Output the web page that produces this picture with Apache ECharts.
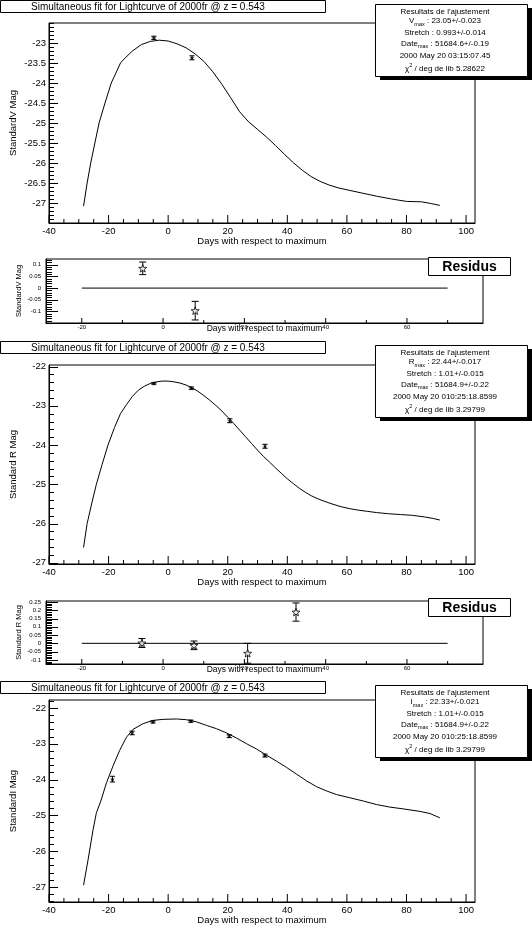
<!DOCTYPE html>
<html><head><meta charset="utf-8">
<script src="https://cdn.jsdelivr.net/npm/echarts@6/dist/echarts.min.js"></script>
<style>html,body{margin:0;padding:0;background:#fff}#c{width:532px;height:926px}</style>
</head><body><div id="c"></div>
<script>
const FONT = '"Liberation Sans", Arial, Helvetica, sans-serif';

// ---------- V band ----------
const vFitDays = [-28.4,-27.2,-26.0,-24.6,-23.2,-21.2,-19.1,-16.0,-14.8,-12,-9,-6,-3,0,3,6,9,12,15,18,21,24,27,30,33,36,39,42,45,48,51,54,57,60,65,70,75,80,85,88,91.2];
const vFitMag  = [-27.08,-26.5,-26.0,-25.5,-25.0,-24.5,-24.0,-23.5,-23.40,-23.2,-23.04,-22.96,-22.93,-22.95,-23.02,-23.12,-23.27,-23.46,-23.72,-24.03,-24.37,-24.72,-24.97,-25.16,-25.35,-25.56,-25.78,-25.99,-26.18,-26.34,-26.46,-26.55,-26.62,-26.67,-26.75,-26.83,-26.90,-26.96,-26.97,-27.01,-27.06];
const vObsDays = [-4.8, 8.0];
const vObsMag  = [-22.87, -23.37];
const vObsErr  = [0.04, 0.05];
const vResDays = [-5.0, 7.9];
const vRes     = [0.085, -0.097];
const vResErr  = [0.027, 0.04];

// ---------- R band ----------
const rFitDays = [-28.4,-27.2,-25.7,-24.1,-22.2,-20.2,-18.0,-16,-14,-12,-10,-8,-6,-4,-2,0,2,4,6,8,10,12,14,16,18,20,22,24,26,28,30,32,34,36,38,40,42,44,46,48,50,52,55,58,61,64,67,70,74,78,82,86,89,91.2];
const rFitMag  = [-26.61,-26.0,-25.5,-25.0,-24.5,-24.0,-23.55,-23.2,-22.97,-22.76,-22.6,-22.5,-22.43,-22.39,-22.37,-22.37,-22.39,-22.42,-22.47,-22.54,-22.63,-22.74,-22.86,-22.99,-23.13,-23.29,-23.45,-23.62,-23.79,-23.96,-24.13,-24.29,-24.43,-24.58,-24.72,-24.86,-24.98,-25.1,-25.2,-25.29,-25.36,-25.42,-25.5,-25.57,-25.62,-25.66,-25.69,-25.72,-25.75,-25.77,-25.79,-25.83,-25.87,-25.91];
const rObsDays = [-4.8, 7.8, 20.7, 32.5];
const rObsMag  = [-22.43, -22.55, -23.38, -24.03];
const rObsErr  = [0.02, 0.03, 0.05, 0.05];
const rResDays = [-5.2, 7.6, 20.8, 32.7];
const rRes     = [0.002, -0.012, -0.06, 0.189];
const rResErr  = [0.027, 0.026, 0.06, 0.055];

// ---------- I band ----------
const iFitDays = [-28.4,-26.9,-25.2,-24.1,-22.6,-20.7,-18.5,-16.3,-14.0,-11.8,-8.4,-5.1,-1.7,2.8,6.1,9.5,12.9,16.2,19.6,22.9,26.3,29.7,33.0,36.4,39.7,43.1,46.5,49.8,53.2,56.5,61.0,65.5,70.0,74.4,78.9,84.5,87.9,91.2];
const iFitMag  = [-26.95,-26.25,-25.40,-24.93,-24.60,-24.09,-23.62,-23.19,-22.82,-22.60,-22.44,-22.35,-22.32,-22.31,-22.33,-22.39,-22.49,-22.58,-22.70,-22.84,-23.00,-23.15,-23.32,-23.49,-23.66,-23.85,-24.04,-24.20,-24.32,-24.42,-24.51,-24.60,-24.70,-24.77,-24.82,-24.89,-24.95,-25.07];
const iObsDays = [-18.7, -12.1, -5.1, 7.6, 20.5, 32.5];
const iObsMag  = [-23.99, -22.70, -22.39, -22.37, -22.79, -23.33];
const iObsErr  = [0.08, 0.05, 0.03, 0.03, 0.04, 0.04];

// residual reference line
const resLineDays = [-20, 70];
const resLineVal  = [0, 0];

// ---------- ticks ----------
const mainXMajor = [-40,-20,0,20,40,60,80,100];
const resXMajor  = [-20,0,20,40,60];
const vYMajor    = [-27,-26.5,-26,-25.5,-25,-24.5,-24,-23.5,-23];
const rYMajor    = [-27,-26,-25,-24,-23,-22];
const iYMajor    = [-27,-26,-25,-24,-23,-22];
const vResYMajor = [-0.1,-0.05,0,0.05,0.1];
const rResYMajor = [-0.1,-0.05,0,0.05,0.1,0.15,0.2,0.25];

// ---------- texts ----------
const titleText = 'Simultaneous fit for Lightcurve of 2000fr @ z = 0.543';
const infoHeader = "Resultats de l'ajustement";
const vInfo = ['V', ' : 23.05+/-0.023', 'Stretch : 0.993+/-0.014', ' : 51684.6+/-0.19', '2000 May 20 03:15:07.45', ' / deg de lib 5.28622'];
const rInfo = ['R', ' : 22.44+/-0.017', 'Stretch : 1.01+/-0.015', ' : 51684.9+/-0.22', '2000 May 20 010:25:18.8599', ' / deg de lib 3.29799'];
const iInfo = ['I', ' : 22.33+/-0.021', 'Stretch : 1.01+/-0.015', ' : 51684.9+/-0.22', '2000 May 20 010:25:18.8599', ' / deg de lib 3.29799'];

function steps(a, b, s) { const out = []; const n = Math.round((b - a) / s); for (let k = 0; k <= n; k++) out.push(+(a + k * s).toFixed(4)); return out; }
function zip(a, b) { return a.map((v, k) => [v, b[k]]); }
function zip3(a, b, c) { return a.map((v, k) => [v, b[k], c[k]]); }
const fmt = v => String(parseFloat((+v).toFixed(3)));

const grids = [
  {left: 49, top: 23,  width: 426, height: 200},   // V main
  {left: 46, top: 259, width: 437, height: 64},    // V res
  {left: 49, top: 365, width: 426, height: 199},   // R main
  {left: 46, top: 601, width: 437, height: 63},    // R res
  {left: 49, top: 700, width: 426, height: 203}    // I main
].map(g => Object.assign({show: true, borderColor: '#000', borderWidth: 1, backgroundColor: 'transparent'}, g));

const xAxis = [], yAxis = [];
function addX(gi, min, max, major, o) {
  xAxis.push({type: 'value', gridIndex: gi, min, max, position: 'bottom',
    axisLine: {show: true, onZero: false, lineStyle: {color: '#000', width: 1}},
    axisTick: {show: false},
    axisLabel: {show: true, customValues: major, fontSize: o.lab, fontFamily: FONT, color: '#000', margin: o.margin, formatter: fmt},
    splitLine: {show: false},
    name: 'Days with respect to maximum', nameLocation: 'middle', nameGap: o.nameGap, nameMoveOverlap: false,
    nameTextStyle: {fontSize: o.nameSize, fontFamily: FONT, color: '#000'}});
  return xAxis.length - 1;
}
function addY(gi, min, max, major, o) {
  yAxis.push({type: 'value', gridIndex: gi, min, max, position: 'left',
    axisLine: {show: true, onZero: false, lineStyle: {color: '#000', width: 1}},
    axisTick: {show: false},
    axisLabel: {show: true, customValues: major, fontSize: o.lab, fontFamily: FONT, color: '#000', margin: o.margin, formatter: fmt},
    splitLine: {show: false},
    name: o.name, nameLocation: 'middle', nameGap: o.nameGap, nameRotate: 90, nameMoveOverlap: false,
    nameTextStyle: {fontSize: o.nameSize, fontFamily: FONT, color: '#000'}});
  return yAxis.length - 1;
}

const mainXo = {majLen: 8, minLen: 4, lab: 9.5, margin: 3, nameGap: 13, nameSize: 9.5};
const resXo  = {majLen: 5, minLen: 3, lab: 6, margin: 1, nameGap: 1, nameSize: 8.5};
const mainYo = {majLen: 9, minLen: 5, lab: 9.5, margin: 3, nameGap: 31, nameSize: 9.5};
const resYo  = {majLen: 12, minLen: 6, lab: 6, margin: 5, nameGap: 23, nameSize: 7.5};

const panels = [
  {g: 0, type: 'main', xr: [-40, 103], yr: [-27.5, -22.5], yMaj: vYMajor, yMin: steps(-27.5, -22.5, 0.1), name: 'StandardV Mag',
   fit: zip(vFitDays, vFitMag), obs: zip3(vObsDays, vObsMag, vObsErr)},
  {g: 1, type: 'res', xr: [-28.8, 78.7], yr: [-0.15, 0.125], yMaj: vResYMajor, yMin: steps(-0.15, 0.12, 0.01), name: 'StandardV Mag',
   fit: zip(resLineDays, resLineVal), obs: zip3(vResDays, vRes, vResErr)},
  {g: 2, type: 'main', xr: [-40, 103], yr: [-27.03, -21.96], yMaj: rYMajor, yMin: steps(-27.0, -22.0, 0.2), name: 'Standard R Mag',
   fit: zip(rFitDays, rFitMag), obs: zip3(rObsDays, rObsMag, rObsErr)},
  {g: 3, type: 'res', xr: [-28.8, 78.7], yr: [-0.125, 0.256], yMaj: rResYMajor, yMin: steps(-0.12, 0.25, 0.01), name: 'Standard R Mag',
   fit: zip(resLineDays, resLineVal), obs: zip3(rResDays, rRes, rResErr)},
  {g: 4, type: 'main', xr: [-40, 103], yr: [-27.42, -21.78], yMaj: iYMajor, yMin: steps(-27.4, -21.8, 0.2), name: 'StandardI Mag',
   fit: zip(iFitDays, iFitMag), obs: zip3(iObsDays, iObsMag, iObsErr)}
];

const STAR = 'path://M0,-10L2.35,-3.24L9.51,-3.09L3.8,1.24L5.88,8.09L0,4L-5.88,8.09L-3.8,1.24L-9.51,-3.09L-2.35,-3.24Z';
const series = [];
panels.forEach(p => {
  const isMain = p.type === 'main';
  const xo = isMain ? mainXo : resXo, yo = isMain ? mainYo : resYo;
  const xMaj = isMain ? mainXMajor : resXMajor;
  const xMin = isMain ? steps(-40, 100, 5) : steps(-20, 70, 10);
  const xi = addX(p.g, p.xr[0], p.xr[1], xMaj, xo);
  const yi = addY(p.g, p.yr[0], p.yr[1], p.yMaj, Object.assign({name: p.name}, yo));
  // axis ticks (inside the frame), positioned through the axis scales
  const has = (arr, v) => arr.some(a => Math.abs(a - v) < 1e-6);
  const xTicks = xMin.filter(v => !has(xMaj, v)).map(v => [v, xo.minLen]).concat(xMaj.map(v => [v, xo.majLen]));
  const yTicks = p.yMin.filter(v => !has(p.yMaj, v)).map(v => [v, yo.minLen]).concat(p.yMaj.map(v => [v, yo.majLen]));
  const yBase = p.yr[0], xBase = p.xr[0];
  series.push({type: 'custom', xAxisIndex: xi, yAxisIndex: yi, data: xTicks, silent: true, z: 1, clip: false,
    encode: {x: 0},
    renderItem: (params, api) => {
      const c = api.coord([api.value(0), yBase]);
      return {type: 'line', shape: {x1: c[0], y1: c[1], x2: c[0], y2: c[1] - api.value(1)}, style: {stroke: '#000', lineWidth: 1}};
    }});
  series.push({type: 'custom', xAxisIndex: xi, yAxisIndex: yi, data: yTicks, silent: true, z: 1, clip: false,
    encode: {y: 0},
    renderItem: (params, api) => {
      const c = api.coord([xBase, api.value(0)]);
      const yy = Math.round(c[1]) + 0.5;
      return {type: 'line', shape: {x1: c[0], y1: yy, x2: c[0] + api.value(1), y2: yy}, style: {stroke: '#000', lineWidth: 1}};
    }});
  series.push({type: 'line', xAxisIndex: xi, yAxisIndex: yi, data: p.fit, showSymbol: false, symbol: 'none',
    lineStyle: {color: '#000', width: 1}, silent: true, z: 2});
  const cap = isMain ? 2.6 : 3.5;
  series.push({type: 'custom', xAxisIndex: xi, yAxisIndex: yi, data: p.obs, encode: {x: 0, y: 1}, z: 3,
    renderItem: (params, api) => {
      const x = api.value(0), y = api.value(1), e = api.value(2);
      const t = api.coord([x, y + e]), b = api.coord([x, y - e]);
      const st = {stroke: '#000', lineWidth: 1};
      return {type: 'group', children: [
        {type: 'line', shape: {x1: t[0], y1: t[1], x2: b[0], y2: b[1]}, style: st},
        {type: 'line', shape: {x1: t[0] - cap, y1: t[1], x2: t[0] + cap, y2: t[1]}, style: st},
        {type: 'line', shape: {x1: b[0] - cap, y1: b[1], x2: b[0] + cap, y2: b[1]}, style: st}
      ]};
    }});
  series.push({type: 'scatter', xAxisIndex: xi, yAxisIndex: yi, data: p.obs.map(d => [d[0], d[1]]), z: 4,
    symbol: STAR, symbolSize: isMain ? 5 : 8, symbolKeepAspect: true,
    itemStyle: isMain ? {color: '#000'} : {color: '#fff', borderColor: '#000', borderWidth: 1}});
});

// ---------- graphic: title boxes, info boxes, Residus boxes ----------
const graphic = [];
function titleBox(y) {
  graphic.push({type: 'rect', z: 100, shape: {x: 0.5, y: y + 0.5, width: 325, height: 12}, style: {fill: '#fff', stroke: '#000', lineWidth: 1}});
  graphic.push({type: 'text', z: 101, x: 31, y: y + 7, style: {text: titleText, fontSize: 10, fontFamily: FONT, fill: '#000', textVerticalAlign: 'middle'}});
}
function infoBox(y, info) {
  const x = 375, w = 152, h = 72, cx = 445;
  graphic.push({type: 'rect', z: 99, shape: {x: x + 5, y: y + 4, width: w, height: h}, style: {fill: '#000'}});
  graphic.push({type: 'rect', z: 100, shape: {x: x + 0.5, y: y + 0.5, width: w, height: h}, style: {fill: '#fff', stroke: '#000', lineWidth: 1}});
  const offs = [7.5, 18, 29, 40.5, 51.5, 63.5];
  const rich = {
    n: {fontSize: 8, fontFamily: FONT, fill: '#000', verticalAlign: 'top'},
    s: {fontSize: 5.5, fontFamily: FONT, fill: '#000', verticalAlign: 'bottom', padding: [4, 0, 0, 0]},
    m: {fontSize: 8, fontFamily: FONT, fill: '#000', verticalAlign: 'bottom', padding: [3, 0, 0, 0]},
    p: {fontSize: 5.5, fontFamily: FONT, fill: '#000', verticalAlign: 'top'}
  };
  const lines = [
    '{n|' + infoHeader + '}',
    '{n|' + info[0] + '}{s|max}{n|' + info[1] + '}',
    '{n|' + info[2] + '}',
    '{n|Date}{s|max}{n|' + info[3] + '}',
    '{n|' + info[4] + '}',
    '{m|\u03C7}{p|2}{m|' + info[5] + '}'
  ];
  lines.forEach((t, k) => {
    graphic.push({type: 'text', z: 101, x: cx, y: y + offs[k],
      style: {text: t, rich, fontSize: 8, fontFamily: FONT, fill: '#000', textAlign: 'center', textVerticalAlign: 'middle'}});
  });
}
function residusBox(y) {
  graphic.push({type: 'rect', z: 100, shape: {x: 428.5, y: y + 0.5, width: 82, height: 18}, style: {fill: '#fff', stroke: '#000', lineWidth: 1}});
  graphic.push({type: 'text', z: 101, x: 469.5, y: y + 10, style: {text: 'Residus', fontSize: 14, fontWeight: 'bold', fontFamily: FONT, fill: '#000', textAlign: 'center', textVerticalAlign: 'middle'}});
}
titleBox(0); infoBox(4, vInfo); residusBox(257);
titleBox(341); infoBox(345, rInfo); residusBox(598);
titleBox(681); infoBox(685, iInfo);

const chart = echarts.init(document.getElementById('c'), null, {renderer: 'canvas'});
chart.setOption({
  animation: false,
  backgroundColor: '#fff',
  textStyle: {fontFamily: FONT},
  grid: grids, xAxis, yAxis, series, graphic
});
</script>
</body></html>
